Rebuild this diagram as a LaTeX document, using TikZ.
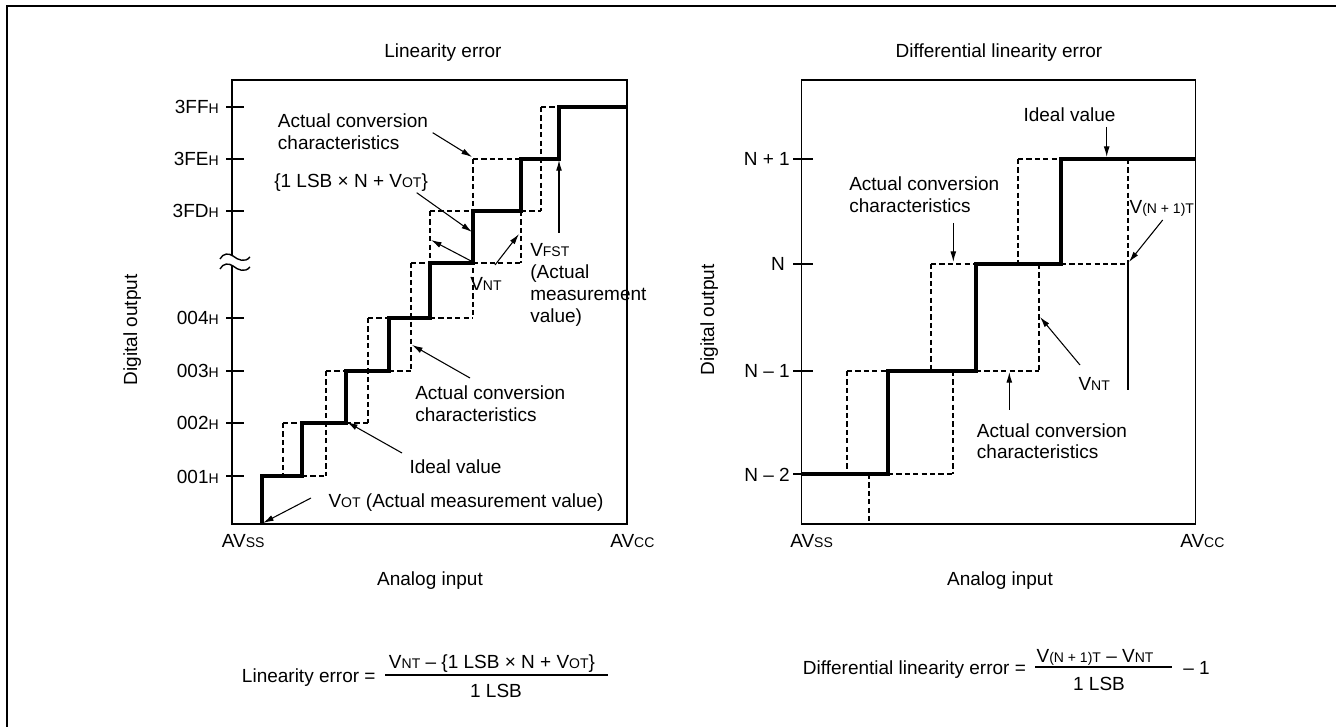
\documentclass[tikz,border=0pt]{standalone}
\usepackage{fontspec}
\setmainfont{Liberation Sans}
\usetikzlibrary{arrows.meta}

\newcommand\lbl{\fontsize{14.25pt}{16.3pt}\selectfont}
\newcommand\sub[1]{{\fontsize{10.5pt}{12pt}\selectfont #1}}

\tikzset{
  ideal/.style={line width=2.4pt},
  actual/.style={line width=0.85pt, dash pattern=on 3.9pt off 2.4pt},
  axisline/.style={line width=1.05pt},
  pointer/.style={line width=0.8pt, -{Latex[length=8pt,width=4.4pt]}},
  txt/.style={inner sep=0pt, font=\lbl},
  ml/.style={txt, align=left, anchor=north west},
}

\begin{document}
\begin{tikzpicture}[x=0.75pt,y=-0.75pt]
\useasboundingbox (0,0) rectangle (1336,727);

% outer frame
\draw[line width=1.7pt] (7,727) -- (7,6) -- (1336,6);

% ---------------- Linearity error ----------------
\node[txt,anchor=base] (titleL) at (443,58) {Linearity error};

% plot box with broken axis
\draw[axisline] (232,256) -- (232,80) -- (627,80) -- (627,524) -- (232,524) -- (232,266);
\draw[axisline] (220,259) .. controls (223,253) and (229,253) .. (233,256)
                          .. controls (238,260) and (245,263) .. (250,257);
\draw[axisline] (220,269) .. controls (223,263) and (229,263) .. (233,266)
                          .. controls (238,270) and (245,273) .. (250,267);

% ticks and level labels
\foreach \yy/\name/\txt in {107/l3ff/3FF, 159/l3fe/3FE, 211/l3fd/3FD,
                           318/l004/004, 371/l003/003, 423/l002/002, 476/l001/001} {
  \draw[axisline] (226,\yy) -- (244,\yy);
  \node[txt,anchor=base east] (\name) at (219,\yy+7) {\txt\sub{H}};
}

% actual conversion characteristics (dashed)
\foreach \xa/\xb/\yy in {302/326/476, 283/302/423, 346/368/423, 326/346/371, 389/411/371,
                        368/389/318, 430/473/318, 411/430/263, 473/521/263,
                        430/473/211, 521/541/211, 473/521/159, 541/559/107}
  \draw[actual] (\xa,\yy) -- (\xb,\yy);
\foreach \xx/\ya/\yb in {283/423/476, 326/371/476, 368/318/423, 411/263/371,
                        430/211/263, 473/159/318, 521/211/263, 541/107/211}
  \draw[actual] (\xx,\ya) -- (\xx,\yb);

% ideal staircase
\draw[ideal] (262,524) -- (262,476) -- (302,476) -- (302,423) -- (346,423) -- (346,371)
  -- (389,371) -- (389,318) -- (430,318) -- (430,263) -- (473,263) -- (473,211)
  -- (521,211) -- (521,159) -- (559,159) -- (559,107) -- (627,107);

% annotations
\node[ml] (acTop) at (277.7,113.7) {Actual conversion\\characteristics};
\node[txt,anchor=base west] (lsbN) at (274,187.7) {\{1 LSB × N + V\sub{OT}\}};
\node[txt,anchor=base west] (vntL) at (470,290.3) {V\sub{NT}};
\node[ml,font=\fontsize{14.25pt}{16.6pt}\selectfont] (vfst) at (530,243)
  {V\sub{FST}\\(Actual\\measurement\\value)};
\node[ml] (acLow) at (415,385.7) {Actual conversion\\characteristics};
\node[txt,anchor=base west] (idealL) at (409.3,473.7) {Ideal value};
\node[txt,anchor=base west] (vot) at (328.3,507) {V\sub{OT} (Actual measurement value)};

\coordinate (a1s) at (432.7,132.7); \coordinate (a1e) at (472,157);
\coordinate (a2s) at (416.7,192.7); \coordinate (a2e) at (472,232);
\coordinate (a3s) at (473,262);     \coordinate (a3e) at (431,240);
\coordinate (a4s) at (495,265);     \coordinate (a4e) at (519,234);
\coordinate (a5s) at (559,233);     \coordinate (a5e) at (559,160);
\coordinate (a6s) at (470,378);     \coordinate (a6e) at (412,345);
\coordinate (a7s) at (402,453);     \coordinate (a7e) at (347,422);
\coordinate (a8s) at (311,498);     \coordinate (a8e) at (263,523);
\foreach \k in {1,...,8} \draw[pointer] (a\k s) -- (a\k e);

% axis labels
\node[txt,anchor=base west] (avssL) at (221.7,547) {AV\sub{SS}};
\node[txt,anchor=base west] (avccL) at (610,547) {AV\sub{CC}};
\node[txt,anchor=base] (inL) at (430,585) {Analog input};
\node[txt,rotate=90,anchor=base] (outL) at (137,330) {Digital output};

% ---------------- Differential linearity error ----------------
\node[txt,anchor=base] (titleR) at (999,58) {Differential linearity error};

\draw[axisline] (801.7,80) rectangle (1195.7,524);

\foreach \yy/\name/\txt/\xr in {159/np1/N + 1/790, 264/n0/N/785, 371/nm1/N – 1/790, 474/nm2/N – 2/790} {
  \draw[axisline] (793,\yy) -- (813,\yy);
  \node[txt,anchor=base east] (\name) at (\xr,\yy+7) {\txt};
}

\foreach \xa/\xb/\yy in {1018/1061/159, 931/976/264, 1061/1128/264,
                        847/888/371, 976/1039/371, 888/953/474}
  \draw[actual] (\xa,\yy) -- (\xb,\yy);
\foreach \xx/\ya/\yb in {1018/159/264, 1128/159/264, 931/264/371, 1039/264/371,
                        847/371/474, 953/371/474, 869/474/524}
  \draw[actual] (\xx,\ya) -- (\xx,\yb);

\draw[ideal] (801.7,474) -- (888,474) -- (888,371) -- (976,371) -- (976,264)
  -- (1061,264) -- (1061,159) -- (1195.7,159);

\draw[line width=0.8pt] (1128,264) -- (1128,390);

\node[txt,anchor=base west] (idealR) at (1023.3,122) {Ideal value};
\node[ml] (acR1) at (849,176.3) {Actual conversion\\characteristics};
\node[txt,anchor=base west] (vn1t) at (1129.3,213.7) {V\sub{(N + 1)T}};
\node[txt,anchor=base west] (vntR) at (1078.3,390.3) {V\sub{NT}};
\node[ml] (acR2) at (976.7,423) {Actual conversion\\characteristics};

\coordinate (b1s) at (1106.7,127);  \coordinate (b1e) at (1106.7,157);
\coordinate (b2s) at (953.3,223);   \coordinate (b2e) at (953.3,262);
\coordinate (b3s) at (1162.7,220);  \coordinate (b3e) at (1129,262);
\coordinate (b4s) at (1080,365);    \coordinate (b4e) at (1040,317);
\coordinate (b5s) at (1009.3,410);  \coordinate (b5e) at (1009.3,372);
\foreach \k in {1,...,5} \draw[pointer] (b\k s) -- (b\k e);

\node[txt,anchor=base west] (avssR) at (790,547) {AV\sub{SS}};
\node[txt,anchor=base west] (avccR) at (1180,547) {AV\sub{CC}};
\node[txt,anchor=base] (inR) at (1000,585) {Analog input};
\node[txt,rotate=90,anchor=base] (outR) at (714,320) {Digital output};

% ---------------- formulas ----------------
\node[txt,anchor=base west] (fL) at (241.7,682) {Linearity error =};
\coordinate (barL1) at (385,675); \coordinate (barL2) at (608,675);
\draw[line width=0.9pt] (barL1) -- (barL2);
\node[txt,anchor=base] (fLn) at (492,668) {V\sub{NT} – \{1 LSB × N + V\sub{OT}\}};
\node[txt,anchor=base] (fLd) at (496,697) {1 LSB};

\node[txt,anchor=base west] (fR) at (802.7,674) {Differential linearity error =};
\coordinate (barR1) at (1035,667); \coordinate (barR2) at (1172,667);
\draw[line width=0.9pt] (barR1) -- (barR2);
\node[txt,anchor=base] (fRn) at (1095,662) {V\sub{(N + 1)T} – V\sub{NT}};
\node[txt,anchor=base] (fRd) at (1099,690) {1 LSB};
\node[txt,anchor=base west] (fRm) at (1183,674) {– 1};
\end{tikzpicture}
\end{document}
